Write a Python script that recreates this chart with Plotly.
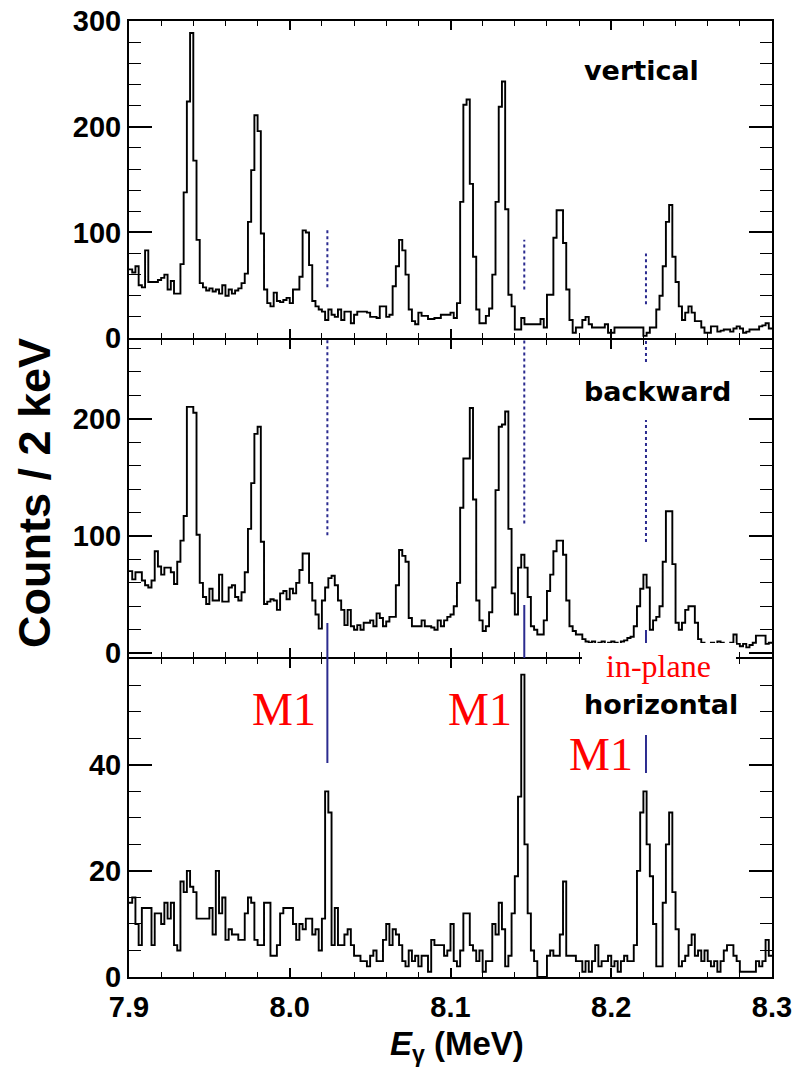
import plotly.graph_objects as go

# ---------------- data (counts per 2 keV bin, 7.900 - 8.300 MeV) ----------------
E_START = 7.9
BIN_WIDTH = 0.002

vertical = [
    65, 62, 68, 50, 48, 83, 53, 53, 53, 55,
    57, 60, 46, 54, 42, 42, 70, 138, 224, 289,
    168, 93, 52, 48, 45, 47, 44, 46, 42, 50,
    40, 46, 42, 45, 47, 52, 61, 110, 159, 211,
    196, 99, 46, 33, 30, 43, 35, 34, 36, 38,
    33, 46, 46, 58, 102, 100, 69, 35, 30, 27,
    25, 17, 27, 22, 20, 27, 17, 25, 25, 14,
    22, 25, 25, 25, 24, 20, 20, 19, 30, 30,
    20, 22, 49, 68, 93, 83, 60, 27, 16, 13,
    24, 21, 21, 18, 18, 19, 19, 22, 22, 22,
    24, 19, 33, 129, 221, 226, 146, 77, 27, 14,
    14, 21, 28, 60, 129, 219, 243, 122, 41, 30,
    8, 8, 19, 13, 13, 13, 13, 13, 18, 10,
    41, 41, 95, 121, 121, 90, 46, 17, 5, 10,
    10, 17, 20, 13, 10, 10, 10, 10, 13, 5,
    5, 10, 10, 10, 10, 10, 10, 10, 10, 10,
    2, 5, 10, 10, 27, 40, 68, 110, 126, 77,
    53, 30, 17, 24, 30, 24, 16, 16, 10, 5,
    5, 11, 11, 6, 7, 8, 8, 6, 9, 11,
    9, 5, 6, 8, 8, 8, 11, 12, 14, 9,
]

backward = [
    70, 63, 69, 69, 62, 58, 56, 62, 87, 74,
    67, 73, 73, 69, 59, 78, 96, 117, 210, 210,
    205, 101, 60, 48, 42, 55, 45, 45, 67, 44,
    44, 56, 58, 48, 45, 52, 69, 106, 145, 187,
    193, 95, 42, 44, 46, 45, 37, 51, 53, 46,
    55, 51, 60, 71, 85, 85, 60, 45, 33, 21,
    45, 56, 64, 66, 58, 45, 37, 24, 37, 23,
    20, 24, 20, 26, 26, 28, 23, 34, 30, 23,
    27, 31, 31, 58, 88, 83, 78, 30, 23, 23,
    23, 28, 23, 23, 22, 20, 28, 23, 28, 31,
    33, 40, 60, 124, 166, 166, 209, 131, 45, 28,
    19, 23, 35, 56, 139, 193, 195, 206, 106, 51,
    33, 73, 84, 73, 48, 23, 20, 16, 16, 28,
    53, 67, 87, 96, 96, 84, 45, 23, 19, 16,
    16, 12, 10, 9, 10, 8, 9, 10, 8, 9,
    10, 9, 8, 10, 11, 13, 14, 23, 40, 55,
    67, 56, 20, 28, 31, 40, 78, 121, 121, 76,
    26, 20, 26, 37, 40, 40, 26, 12, 9, 8,
    7, 9, 8, 10, 9, 8, 7, 9, 16, 8,
    6, 8, 5, 7, 9, 15, 15, 15, 8, 9,
]

horizontal = [
    14, 15, 10, 6, 13, 13, 13, 6, 12, 12,
    10, 14, 11, 14, 6, 5, 18, 16, 20, 17,
    16, 11, 11, 11, 11, 13, 8, 20, 12, 15,
    7, 9, 8, 8, 7, 7, 12, 15, 14, 7,
    6, 6, 14, 14, 4, 4, 6, 12, 13, 13,
    13, 10, 7, 10, 9, 11, 11, 8, 9, 5,
    11, 35, 31, 6, 13, 6, 6, 8, 9, 6,
    4, 4, 3, 3, 2, 4, 5, 3, 3, 7,
    10, 6, 9, 8, 6, 3, 2, 5, 3, 4,
    2, 4, 4, 1, 7, 6, 6, 6, 4, 5,
    10, 3, 2, 5, 12, 12, 6, 5, 3, 5,
    1, 3, 3, 10, 8, 14, 9, 2, 4, 12,
    19, 34, 57, 25, 12, 5, 3, 0, 0, 0,
    4, 5, 4, 4, 8, 18, 4, 4, 4, 3,
    3, 1, 3, 1, 3, 6, 2, 3, 3, 4,
    2, 3, 1, 3, 4, 3, 3, 6, 20, 31,
    35, 25, 19, 10, 2, 2, 14, 25, 31, 16,
    9, 2, 3, 4, 6, 8, 4, 5, 3, 5,
    3, 2, 3, 1, 3, 5, 6, 6, 4, 3,
    1, 1, 1, 1, 1, 3, 2, 3, 7, 4,
]

panel_labels = ["vertical", "backward", "horizontal"]
m1_energies = [8.0234, 8.1459, 8.2216]
x_ticks = [7.9, 8.0, 8.1, 8.2, 8.3]

edges = [round(E_START + BIN_WIDTH * k, 4) for k in range(len(vertical) + 1)]

# ---------------- geometry helpers (reference pixel -> paper) ----------------
W, H = 799, 1080
L, R, T, B = 129, 772, 21, 977


def px(xp):
    return (xp - L) / (R - L)


def py(yp):
    return (B - yp) / (B - T)


def ex(xp):
    return 7.9 + (xp - L) / (R - L) * 0.4


# 2-px gaps so that the adjacent frame lines coincide
dom_top = [py(338), 1]
dom_mid = [py(657), py(340)]
dom_bot = [0, py(659)]

fig = go.Figure()

for vals, xa, ya in [(vertical, "x", "y"), (backward, "x2", "y2"), (horizontal, "x3", "y3")]:
    fig.add_trace(go.Scatter(
        x=edges, y=vals + [vals[-1]], mode="lines",
        line=dict(shape="hv", color="black", width=1.9),
        xaxis=xa, yaxis=ya, showlegend=False, hoverinfo="skip"))

tickfont = dict(family="Liberation Sans", size=29, color="black", weight="bold")

xcommon = dict(range=[7.9, 8.3], showline=True, linecolor="black", linewidth=2,
               mirror="ticks", ticks="inside", ticklen=9, tickwidth=1.5, tickcolor="black",
               tickmode="array", tickvals=x_ticks, tickformat=".1f", automargin=False,
               minor=dict(dtick=0.02, tick0=7.9, ticklen=5, ticks="inside", tickwidth=1.2,
                          tickcolor="black", showgrid=False),
               showgrid=False, zeroline=False, tickfont=tickfont)

ycommon = dict(showline=True, linecolor="black", linewidth=2, mirror="ticks",
               ticks="inside", ticklen=23, tickwidth=1.5, tickcolor="black", automargin=False,
               showgrid=False, zeroline=False, tickfont=tickfont)

MID_TOP = 267.0
fig.update_layout(
    width=W, height=H,
    margin=dict(l=L, r=W - R, t=T, b=H - B, autoexpand=False),
    paper_bgcolor="white", plot_bgcolor="white",
    xaxis=dict(xcommon, anchor="y", showticklabels=False),
    xaxis2=dict(xcommon, anchor="y2", matches="x", showticklabels=False),
    xaxis3=dict(xcommon, anchor="y3", matches="x", showticklabels=True, ticklabelstandoff=3),
    yaxis=dict(ycommon, domain=dom_top, anchor="x", range=[0, 300.3], tick0=0, dtick=100,
               minor=dict(dtick=20, ticklen=12, ticks="inside", tickwidth=1.2, tickcolor="black")),
    yaxis2=dict(ycommon, domain=dom_mid, anchor="x2", range=[-3.2, MID_TOP], tick0=0, dtick=100,
                minor=dict(dtick=20, ticklen=12, ticks="inside", tickwidth=1.2, tickcolor="black")),
    yaxis3=dict(ycommon, domain=dom_bot, anchor="x3", range=[0, 59.95], tick0=0, dtick=20,
                minor=dict(dtick=5, ticklen=12, ticks="inside", tickwidth=1.2, tickcolor="black")),
)

blue = "#2b2b8f"
shapes = []
# dotted guide lines: top panel
top_dot = [(48, 102), (46, 93), (32, 80)]
for e, (a, b) in zip(m1_energies, top_dot):
    shapes.append(dict(type="line", xref="x", yref="y", x0=e, x1=e, y0=a, y1=b,
                       line=dict(color=blue, width=2, dash="3px,3px"), layer="above"))
# dotted guide lines: middle panel
mid_dot = [100.6, 110.6, 94.8]
for e, a in zip(m1_energies, mid_dot):
    shapes.append(dict(type="line", xref="x2", yref="y2", x0=e, x1=e, y0=a, y1=MID_TOP,
                       line=dict(color=blue, width=2, dash="3px,3px"), layer="above"))
# solid M1 markers spanning middle/bottom panels
solid_px = [(623, 763), (605, 658), (630, 773)]
for e, (a, b) in zip(m1_energies, solid_px):
    shapes.append(dict(type="line", xref="x", yref="paper", x0=e, x1=e, y0=py(b), y1=py(a),
                       line=dict(color=blue, width=2), layer="above"))
# white label boxes
shapes.append(dict(type="rect", xref="x", yref="paper", x0=ex(580), x1=ex(740),
                   y0=py(420), y1=py(362), fillcolor="white", line=dict(width=0), layer="above"))
shapes.append(dict(type="rect", xref="x", yref="paper", x0=ex(582), x1=ex(736),
                   y0=py(735), y1=py(643), fillcolor="white", line=dict(width=0), layer="above"))
fig.update_layout(shapes=shapes)

ann = []
lab_font = dict(family="DejaVu Sans", size=27, color="black", weight="bold")
for text, yp in zip(panel_labels, [70, 391, 705]):
    ann.append(dict(text=text, xref="paper", yref="paper", x=px(582), y=py(yp),
                    xanchor="left", yanchor="middle", showarrow=False, font=lab_font))

red_font = dict(family="Liberation Serif", size=46, color="#ff0000")
for (xc, yc) in [(284, 709), (480, 709), (601, 754)]:
    ann.append(dict(text="M1", xref="paper", yref="paper", x=px(xc), y=py(yc),
                    xanchor="center", yanchor="middle", showarrow=False, font=red_font))
ann.append(dict(text="in-plane", xref="paper", yref="paper", x=px(658), y=py(666),
                xanchor="center", yanchor="middle", showarrow=False,
                font=dict(family="Liberation Serif", size=32, color="#ff0000")))

ann.append(dict(text="Counts / 2 keV", xref="paper", yref="paper", x=px(35), y=py(493),
                xanchor="center", yanchor="middle", textangle=-90, showarrow=False,
                font=dict(family="Liberation Sans", size=45, color="black", weight="bold")))
ann.append(dict(text="<i>E</i><sub>γ</sub> (MeV)", xref="paper", yref="paper", x=px(457), y=py(1046),
                xanchor="center", yanchor="middle", showarrow=False,
                font=dict(family="Liberation Sans", size=33, color="black", weight="bold")))
fig.update_layout(annotations=ann)

fig.write_html("out.html")
